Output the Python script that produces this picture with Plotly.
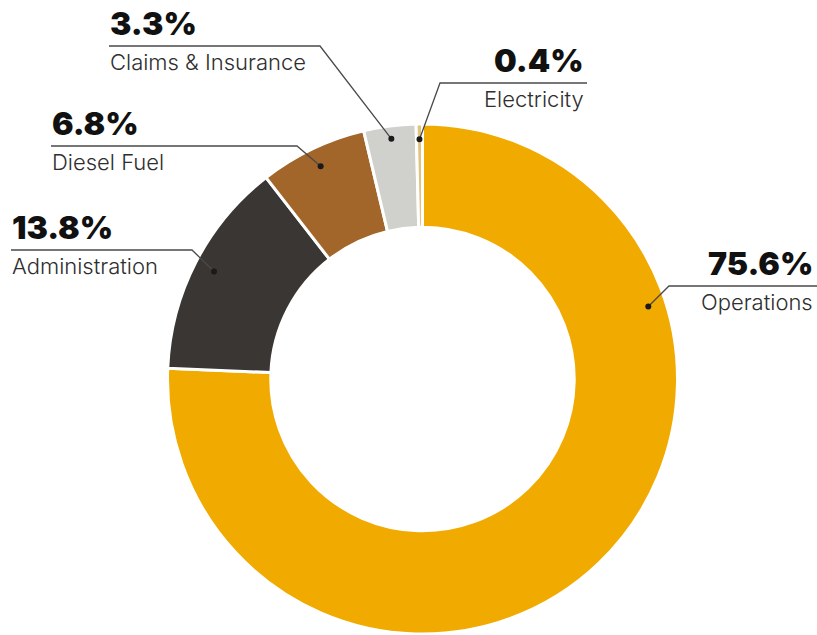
import math
import plotly.graph_objects as go

# Cost breakdown shares (percent)
categories = ["Operations", "Administration", "Diesel Fuel", "Claims & Insurance", "Electricity"]
shares = [75.6, 13.8, 6.8, 3.3, 0.4]
pct_labels = ["75.6%", "13.8%", "6.8%", "3.3%", "0.4%"]
colors = ["#F0AA00", "#3A3633", "#A2652A", "#D0D0CC", "#E3C27E"]

W, H = 817, 635
CX, CY, R = 422.5, 379.0, 255.0   # donut centre / outer radius in pixels
HOLE = 0.595

# where along each slice (0..1) the leader dot sits, and at what radius
dot_frac = [0.265, 0.5, 0.5, 0.5, 0.5]
dot_rad = [0.93, 0.92, 0.925, 0.95, 0.94]

# label layout: text x, alignment side, rule y, rule span and elbow x
label_layout = {
    "Operations":         dict(x=815, side="right", rule_y=286, x0=669, x1=817, elbow=669),
    "Administration":     dict(x=10,  side="left",  rule_y=250, x0=11,  x1=192, elbow=192),
    "Diesel Fuel":        dict(x=50,  side="left",  rule_y=146, x0=51,  x1=297, elbow=297),
    "Claims & Insurance": dict(x=108, side="left",  rule_y=46,  x0=109, x1=320, elbow=320),
    "Electricity":        dict(x=586, side="right", rule_y=83,  x0=440, x1=587, elbow=440),
}

fig = go.Figure()

fig.add_trace(go.Pie(
    labels=categories,
    values=shares,
    sort=False,
    direction="clockwise",
    rotation=0,
    hole=HOLE,
    marker=dict(colors=colors, line=dict(color="white", width=3)),
    textinfo="none",
    hoverinfo="label+percent",
    showlegend=False,
    domain=dict(x=[(CX - R) / W, (CX + R) / W], y=[1 - (CY + R) / H, 1 - (CY - R) / H]),
))

total = sum(shares)
cum = 0.0
annotations = []
shapes = []
for i, name in enumerate(categories):
    start = cum / total * 360.0
    span = shares[i] / total * 360.0
    cum += shares[i]
    ang = math.radians(start + span * dot_frac[i])
    r = R * dot_rad[i]
    dx = CX + r * math.sin(ang)
    dy = CY - r * math.cos(ang)

    lay = label_layout[name]
    far = lay["x0"] if lay["elbow"] == lay["x1"] else lay["x1"]
    # leader: dot -> elbow -> horizontal rule
    shapes.append(dict(
        type="path", xref="x", yref="y", layer="above",
        path=f"M {dx:.1f} {dy:.1f} L {lay['elbow']} {lay['rule_y']} L {far} {lay['rule_y']}",
        line=dict(color="#4a4a4a", width=1.3),
    ))
    shapes.append(dict(
        type="circle", xref="x", yref="y", layer="above",
        x0=dx - 3, x1=dx + 3, y0=dy - 3, y1=dy + 3,
        fillcolor="#1a1a1a", line=dict(width=0),
    ))

    anchor = lay["side"]
    annotations.append(dict(
        x=lay["x"], y=lay["rule_y"] - 1, xref="x", yref="y",
        text=pct_labels[i], showarrow=False,
        xanchor=anchor, yanchor="bottom",
        font=dict(family="Inter", size=32, color="#111111", weight=900),
    ))
    annotations.append(dict(
        x=lay["x"], y=lay["rule_y"] + 1, xref="x", yref="y",
        text=name, showarrow=False,
        xanchor=anchor, yanchor="top",
        font=dict(family="Inter", size=22, color="#2e2e2e", weight=300),
    ))

fig.update_layout(
    width=W, height=H,
    margin=dict(l=0, r=0, t=0, b=0),
    paper_bgcolor="white", plot_bgcolor="rgba(0,0,0,0)",
    xaxis=dict(range=[0, W], visible=False, fixedrange=True),
    yaxis=dict(range=[H, 0], visible=False, fixedrange=True),
    annotations=annotations,
    shapes=shapes,
)

fig.write_html("out.html")
